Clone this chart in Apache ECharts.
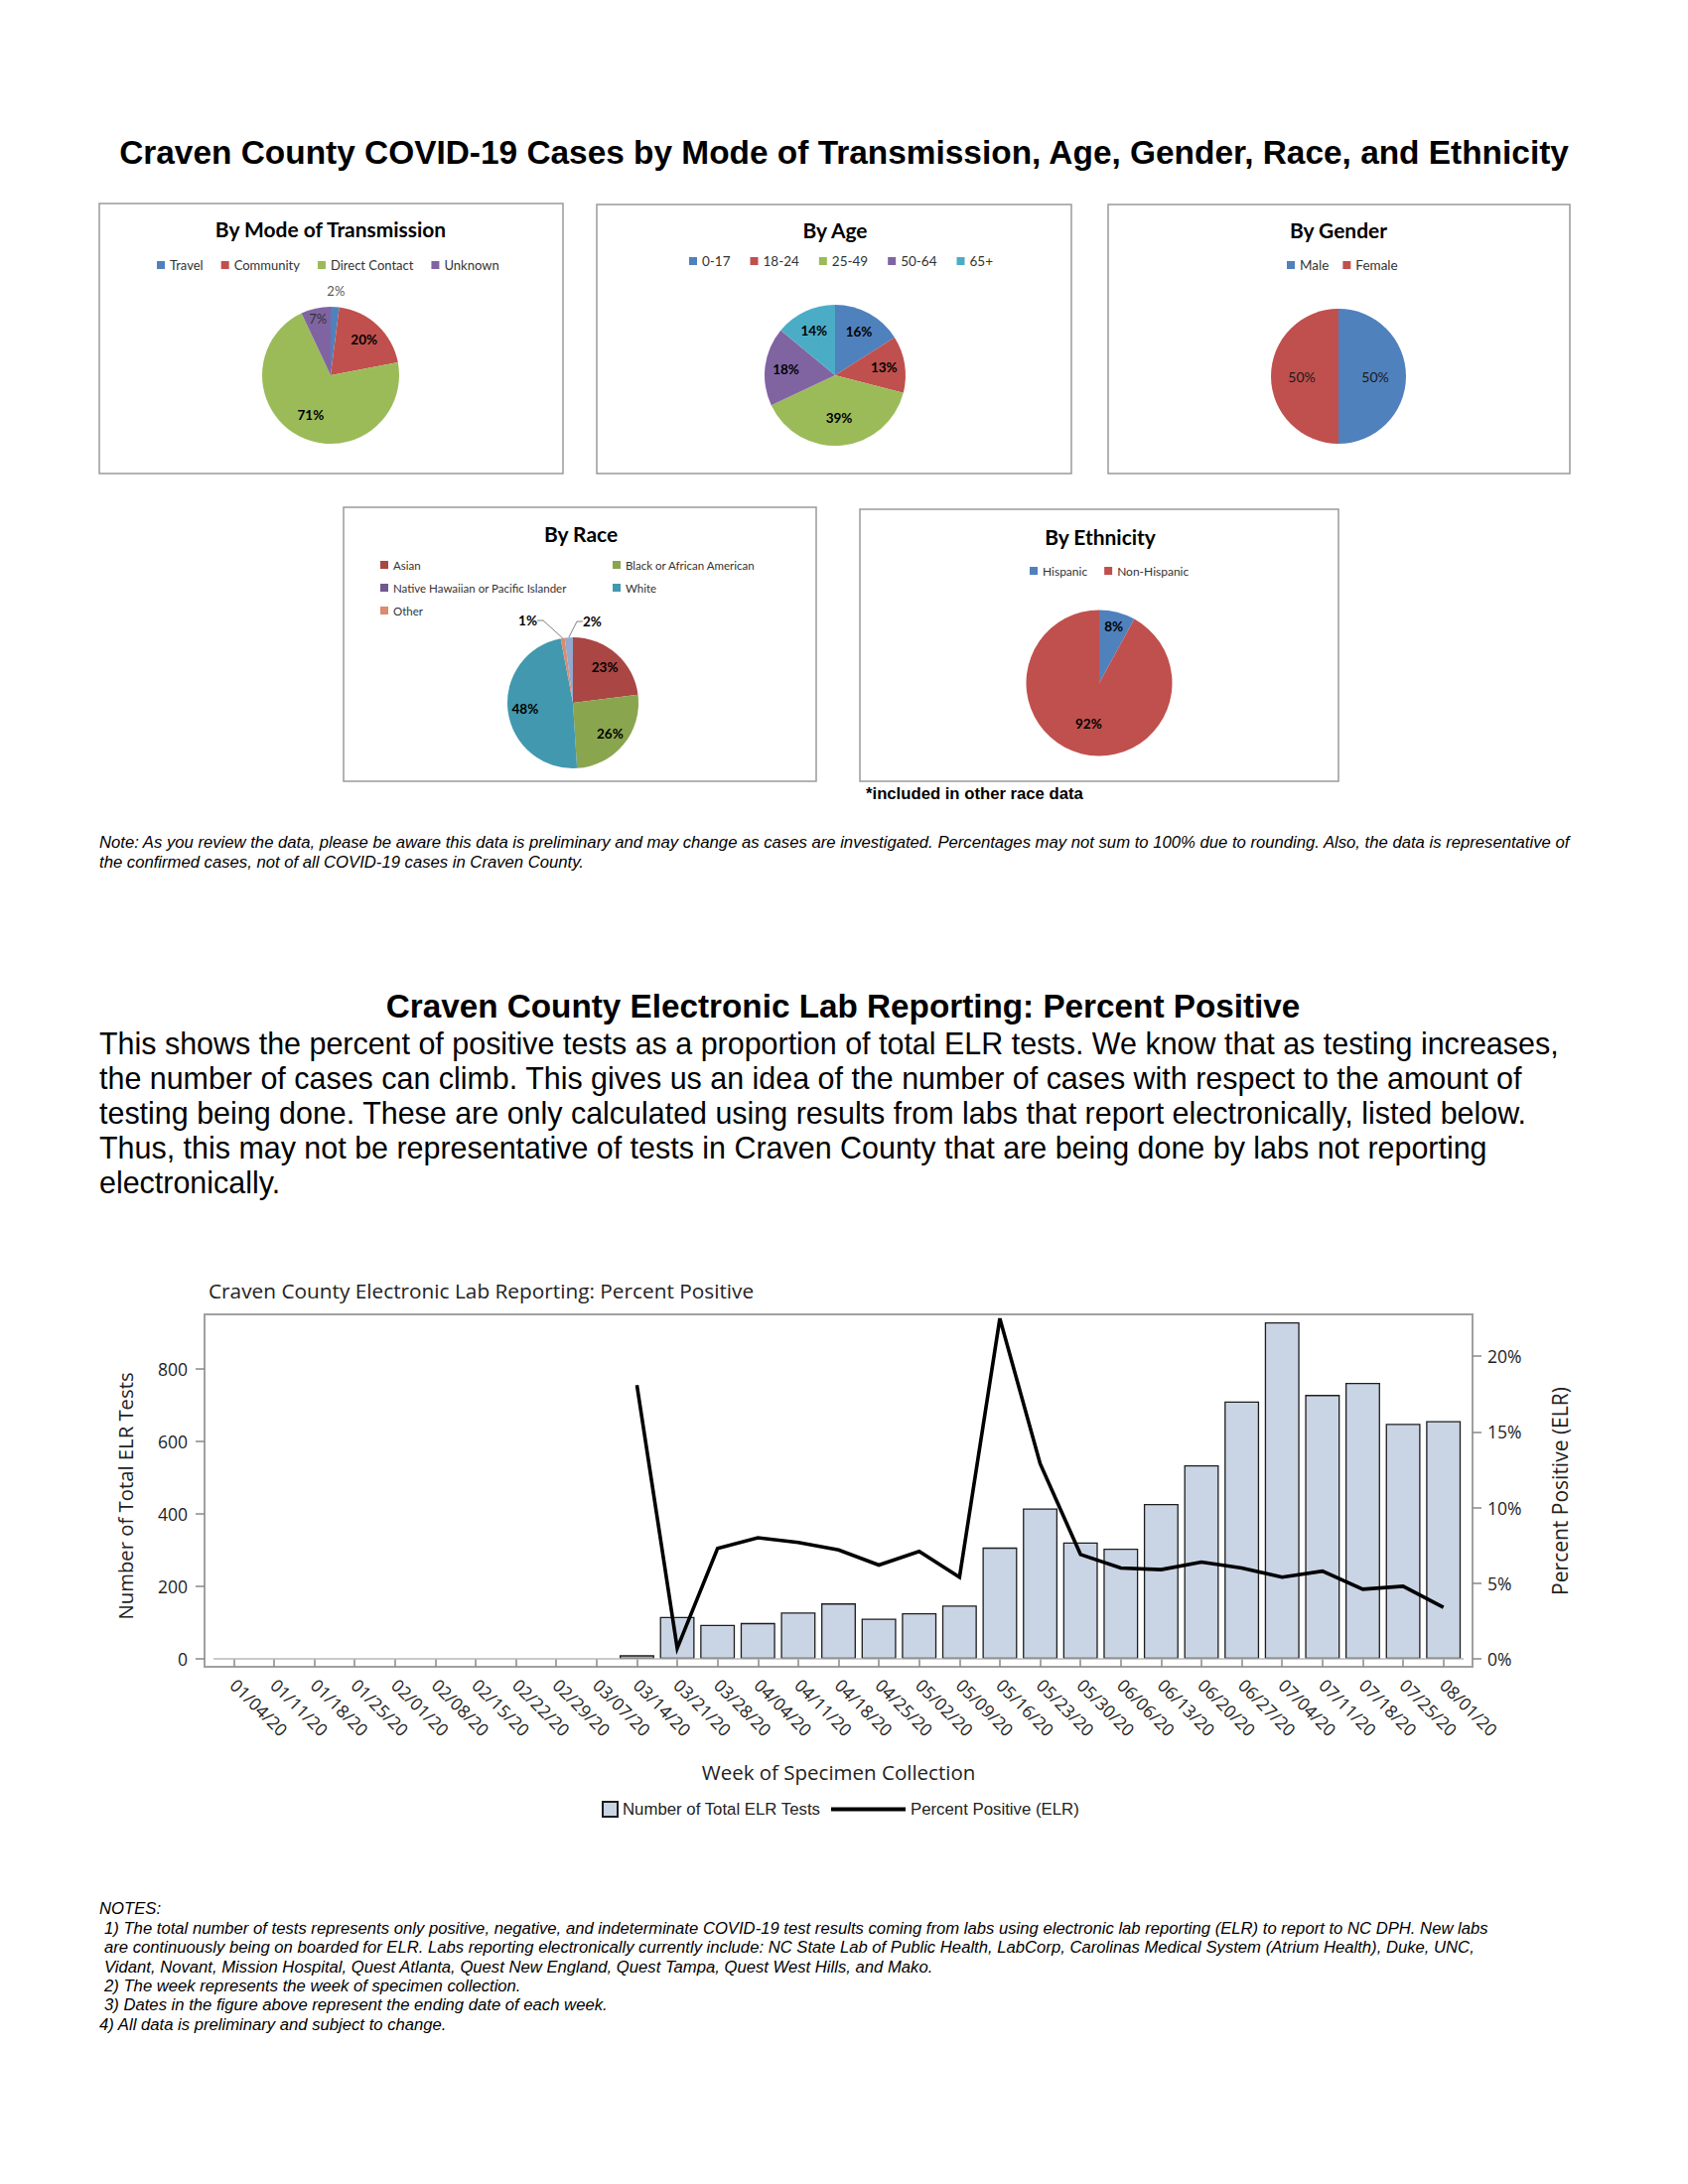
<!DOCTYPE html>
<html>
<head>
<meta charset="utf-8">
<script src="https://cdn.jsdelivr.net/npm/echarts@6/dist/echarts.min.js"></script>
<style>
html,body{margin:0;padding:0;background:#fff;}
#c{width:1700px;height:2200px;}
</style>
</head>
<body>
<div id="c"></div>
<script>
// ---------------- DATA ----------------
const transmissionNames = ['Travel', 'Community', 'Direct Contact', 'Unknown'];
const transmissionPct = [2, 20, 71, 7];

const ageNames = ['0-17', '18-24', '25-49', '50-64', '65+'];
const agePct = [16, 13, 39, 18, 14];

const genderNames = ['Male', 'Female'];
const genderPct = [50, 50];

const raceNames = ['Asian', 'Black or African American', 'Native Hawaiian or Pacific Islander', 'White', 'Other', 'American Indian or Alaskan Native'];
const racePct = [23, 26, 0, 48, 1, 2];

const ethnicityNames = ['Hispanic', 'Non-Hispanic'];
const ethnicityPct = [8, 92];

const weeks = ['01/04/20','01/11/20','01/18/20','01/25/20','02/01/20','02/08/20','02/15/20','02/22/20','02/29/20','03/07/20',
  '03/14/20','03/21/20','03/28/20','04/04/20','04/11/20','04/18/20','04/25/20','05/02/20','05/09/20','05/16/20',
  '05/23/20','05/30/20','06/06/20','06/13/20','06/20/20','06/27/20','07/04/20','07/11/20','07/18/20','07/25/20','08/01/20'];
const elrTests = [null,null,null,null,null,null,null,null,null,null,
  10,116,94,99,128,153,111,126,147,307,
  415,321,304,427,534,710,928,728,761,648,656];
const pctPositive = [null,null,null,null,null,null,null,null,null,null,
  18.1,0.7,7.3,8.0,7.7,7.2,6.2,7.1,5.4,22.5,
  12.9,6.9,6.0,5.9,6.4,6.0,5.4,5.8,4.6,4.8,3.4];
const leftTicks = [0, 200, 400, 600, 800];
const rightTicks = [0, 5, 10, 15, 20];

// ---------------- TEXT ----------------
const mainTitle = 'Craven County COVID-19 Cases by Mode of Transmission, Age, Gender, Race, and Ethnicity';
const elrTitle = 'Craven County Electronic Lab Reporting: Percent Positive';
const introLines = [
  'This shows the percent of positive tests as a proportion of total ELR tests. We know that as testing increases,',
  'the number of cases can climb. This gives us an idea of the number of cases with respect to the amount of',
  'testing being done. These are only calculated using results from labs that report electronically, listed below.',
  'Thus, this may not be representative of tests in Craven County that are being done by labs not reporting',
  'electronically.'
];
const pieNoteLines = [
  'Note: As you review the data, please be aware this data is preliminary and may change as cases are investigated. Percentages may not sum to 100% due to rounding. Also, the data is representative of',
  'the confirmed cases, not of all COVID-19 cases in Craven County.'
];
const raceFootnote = '*included in other race data';
const notesLines = [
  'NOTES:',
  '1) The total number of tests represents only positive, negative, and indeterminate COVID-19 test results coming from labs using electronic lab reporting (ELR) to report to NC DPH. New labs',
  'are continuously being on boarded for ELR. Labs reporting electronically currently include: NC State Lab of Public Health, LabCorp, Carolinas Medical System (Atrium Health), Duke, UNC,',
  'Vidant, Novant, Mission Hospital, Quest Atlanta, Quest New England, Quest Tampa, Quest West Hills, and Mako.',
  '2) The week represents the week of specimen collection.',
  '3) Dates in the figure above represent the ending date of each week.',
  '4) All data is preliminary and subject to change.'
];
const notesIndent = [0, 5, 5, 5, 5, 5, 0];

// ---------------- STYLE / LAYOUT ----------------
const F_ARIAL = '"Liberation Sans", Arial, Helvetica, sans-serif';
const F_XL = 'Lato, "Noto Sans", sans-serif';
const F_SAS = '"Open Sans", "Noto Sans", sans-serif';

const cv = document.createElement('canvas').getContext('2d');
function measure(text, weight, style, family) {
  cv.font = style + ' ' + weight + ' 100px ' + family;
  return cv.measureText(text).width / 100;
}
function fitSize(text, weight, style, family, target) {
  return target / measure(text, weight, style, family);
}

const C_BLUE = '#4F81BD', C_RED = '#C0504D', C_GREEN = '#9BBB59', C_PURPLE = '#8064A2', C_AQUA = '#4BACC6';
const transmissionColors = [C_BLUE, C_RED, C_GREEN, C_PURPLE];
const ageColors = [C_BLUE, C_RED, C_GREEN, C_PURPLE, C_AQUA];
const genderColors = [C_BLUE, C_RED];
const raceColors = ['#AA4643', '#89A54E', '#71588F', '#4198AF', '#DB8B6E', '#93A9CF'];
const ethnicityColors = [C_BLUE, C_RED];

const P1 = { c: [333, 378], r: 69 };
const P2 = { c: [841, 378], r: 71 };
const P3 = { c: [1348, 379], r: 68 };
const P4 = { c: [577, 708], r: 66 };
const P5 = { c: [1107, 688], r: 73.5 };

function slices(names, vals, colors) {
  return names.map((n, i) => ({ name: n, value: vals[i], itemStyle: { color: colors[i] } }));
}
function basePie(names, vals, colors, P) {
  return {
    type: 'pie', center: P.c, radius: P.r, startAngle: 90, clockwise: true,
    avoidLabelOverlap: false, silent: true, animation: false,
    emphasis: { disabled: true },
    itemStyle: { borderWidth: 0 },
    label: { show: false }, labelLine: { show: false },
    data: slices(names, vals, colors)
  };
}
const LBL_BOLD = { color: '#000', fontFamily: F_XL, fontSize: 13.5, fontWeight: 'bold' };
const LBL_NORM = { color: '#1a1a1a', fontFamily: F_XL, fontSize: 14, fontWeight: 'normal' };
function labelPie(names, vals, P, ratio, shown, style) {
  return {
    type: 'pie', center: P.c, radius: 2 * ratio * P.r, startAngle: 90, clockwise: true,
    avoidLabelOverlap: false, silent: true, animation: false, z: 5,
    emphasis: { disabled: true },
    itemStyle: { color: 'rgba(0,0,0,0)', borderWidth: 0 },
    label: Object.assign({ show: true, position: 'inside', formatter: '{c}%' }, style),
    labelLine: { show: false },
    data: names.map((n, i) => ({ name: n, value: vals[i], label: { show: shown.indexOf(n) >= 0 } }))
  };
}

// race pie with outside labels for the two smallest slices
const racePie = basePie(raceNames, racePct, raceColors, P4);
[4, 5].forEach(i => {
  racePie.data[i].label = { show: true, position: 'outside', formatter: '{c}%', color: '#000', fontFamily: F_XL, fontSize: 13.5, fontWeight: 'bold' };
  racePie.data[i].labelLine = { show: true, length: 12, length2: 6, smooth: false, lineStyle: { color: '#808080', width: 1 } };
});
racePie.labelLayout = function (p) {
  if (p.dataIndex === 5) return { x: P4.c[0] + 10, y: P4.c[1] - 82, align: 'left', verticalAlign: 'middle' };
  if (p.dataIndex === 4) return { x: P4.c[0] - 36, y: P4.c[1] - 83, align: 'right', verticalAlign: 'middle' };
};

function pieLegend(names, left, cy, gap, fs, orient) {
  return {
    data: names, left: left, top: cy - 7, orient: orient || 'horizontal', padding: 0,
    itemGap: gap, itemWidth: 8, itemHeight: 8, icon: 'rect', selectedMode: false,
    textStyle: { fontFamily: F_XL, fontSize: fs, color: '#333', lineHeight: 14 }
  };
}

// ---------------- GRAPHIC TEXT ----------------
function txt(x, y, text, o) {
  o = o || {};
  return {
    type: 'text', x: x, y: y, silent: true,
    rotation: o.rotation || 0, scaleX: o.scaleX || 1,
    style: {
      text: text, fill: o.fill || '#000',
      fontFamily: o.family || F_ARIAL, fontSize: o.size || 14,
      fontWeight: o.weight || 'normal', fontStyle: o.style || 'normal',
      textAlign: o.align || 'left', align: o.align || 'left',
      textVerticalAlign: 'middle', verticalAlign: 'middle'
    }
  };
}
function box(x0, y0, x1, y1) {
  return { type: 'rect', silent: true, shape: { x: x0, y: y0, width: x1 - x0, height: y1 - y0 },
    style: { fill: 'none', stroke: '#9a9a9a', lineWidth: 1.5 } };
}

const G = [];
// header title
const mainSize = fitSize(mainTitle, 'bold', 'normal', F_ARIAL, 1462);
G.push(txt(850, 153, mainTitle, { size: mainSize, weight: 'bold', align: 'center' }));
// pie boxes
G.push(box(100, 205, 567, 477), box(601, 206, 1079, 477), box(1116, 206, 1581, 477),
       box(346, 511, 822, 787), box(866, 513, 1348, 787));
// pie titles
const pieTitleSize = fitSize('By Mode of Transmission', 'bold', 'normal', F_XL, 234);
G.push(txt(333, 230, 'By Mode of Transmission', { family: F_XL, size: pieTitleSize, weight: 'bold', align: 'center' }));
G.push(txt(841, 231, 'By Age', { family: F_XL, size: pieTitleSize, weight: 'bold', align: 'center' }));
G.push(txt(1348, 231, 'By Gender', { family: F_XL, size: pieTitleSize, weight: 'bold', align: 'center' }));
G.push(txt(585, 537, 'By Race', { family: F_XL, size: pieTitleSize, weight: 'bold', align: 'center' }));
G.push(txt(1108, 540, 'By Ethnicity', { family: F_XL, size: pieTitleSize, weight: 'bold', align: 'center' }));
// footnote under ethnicity
G.push(txt(872, 799, raceFootnote, { size: fitSize(raceFootnote, 'bold', 'normal', F_ARIAL, 219), weight: 'bold' }));
// pie note
const noteSize = 16.5;
const noteScale = 1482 / (measure(pieNoteLines[0], 'normal', 'italic', F_ARIAL) * noteSize);
pieNoteLines.forEach((t, i) => G.push(txt(100, 849 + i * 19.6, t, { size: noteSize, style: 'italic', scaleX: noteScale })));
// section 2 title & paragraph
const elrSize = fitSize(elrTitle, 'bold', 'normal', F_ARIAL, 921);
G.push(txt(849, 1013, elrTitle, { size: elrSize, weight: 'bold', align: 'center' }));
const introSize = fitSize(introLines[0], 'normal', 'normal', F_ARIAL, 1470);
introLines.forEach((t, i) => G.push(txt(100, 1050.5 + i * 35.07, t, { size: introSize })));
// chart title and frame
G.push(txt(210, 1300, elrTitle, { family: F_SAS, size: 20.8, fill: '#222' }));
G.push({ type: 'rect', silent: true, shape: { x: 206, y: 1324, width: 1277, height: 355 },
  style: { fill: 'none', stroke: '#a0a0a0', lineWidth: 2 } });
// y axis names
G.push(txt(126, 1507, 'Number of Total ELR Tests', { family: F_SAS, size: 20.3, fill: '#222', align: 'center', rotation: Math.PI / 2 }));
G.push(txt(1571, 1502, 'Percent Positive (ELR)', { family: F_SAS, size: 21, fill: '#222', align: 'center', rotation: Math.PI / 2 }));
// bottom notes
const notesScale = 1394 / (measure(notesLines[1], 'normal', 'italic', F_ARIAL) * noteSize);
notesLines.forEach((t, i) => G.push(txt(100 + notesIndent[i], 1923 + i * 19.4, t, { size: noteSize, style: 'italic', scaleX: notesScale })));

// ---------------- CHART ----------------
const chart = echarts.init(document.getElementById('c'), null, { renderer: 'svg', width: 1700, height: 2200 });

const option = {
  animation: false,
  backgroundColor: '#ffffff',
  legend: [
    pieLegend(transmissionNames, 158, 267, 18, 13),
    pieLegend(ageNames, 694, 263, 20, 13.5),
    pieLegend(genderNames, 1296, 267, 14, 13.5),
    pieLegend(['Asian', 'Native Hawaiian or Pacific Islander', 'Other'], 383, 569, 9, 11.5, 'vertical'),
    pieLegend(['Black or African American', 'White'], 617, 569, 9, 11.5, 'vertical'),
    pieLegend(ethnicityNames, 1037, 575, 17, 12),
    {
      data: ['Number of Total ELR Tests'], left: 606, top: 1814, padding: 0, selectedMode: false,
      itemWidth: 15, itemHeight: 15, icon: 'rect',
      textStyle: { fontFamily: F_ARIAL, fontSize: 16.8, color: '#222' }
    },
    {
      data: ['Percent Positive (ELR)'], left: 837, top: 1814, padding: 0, selectedMode: false,
      itemWidth: 75, itemHeight: 4, icon: 'rect',
      textStyle: { fontFamily: F_ARIAL, fontSize: 16.8, color: '#222' }
    }
  ],
  grid: [{ left: 215, right: 226, top: 1324, bottom: 529, containLabel: false, outerBoundsMode: 'none' }],
  xAxis: [{
    type: 'category', data: weeks, position: 'bottom', offset: 8, boundaryGap: true,
    axisLine: { show: false },
    axisTick: { show: true, interval: 0, alignWithLabel: true, length: 8, lineStyle: { color: '#888', width: 1.5 } },
    axisLabel: { interval: 0, rotate: -45, margin: 15, fontSize: 17.5, fontFamily: F_SAS, color: '#222' },
    splitLine: { show: false },
    name: 'Week of Specimen Collection', nameLocation: 'middle', nameGap: 95,
    nameTextStyle: { fontSize: 20.5, fontFamily: F_SAS, color: '#222' }
  }],
  yAxis: [{
    type: 'value', min: 0, max: 950, position: 'left', offset: 9,
    axisLine: { show: false }, splitLine: { show: false },
    axisTick: { show: true, length: 9, customValues: leftTicks, lineStyle: { color: '#888', width: 1.5 } },
    axisLabel: { customValues: leftTicks, margin: 17, fontSize: 17.5, fontFamily: F_SAS, color: '#222' }
  }, {
    type: 'value', min: 0, max: 22.77, position: 'right', offset: 9,
    axisLine: { show: false }, splitLine: { show: false },
    axisTick: { show: true, length: 9, customValues: rightTicks, lineStyle: { color: '#888', width: 1.5 } },
    axisLabel: { customValues: rightTicks, margin: 15, fontSize: 17.5, fontFamily: F_SAS, color: '#222', formatter: '{value}%' }
  }],
  series: [
    basePie(transmissionNames, transmissionPct, transmissionColors, P1),
    basePie(ageNames, agePct, ageColors, P2),
    basePie(genderNames, genderPct, genderColors, P3),
    racePie,
    basePie(ethnicityNames, ethnicityPct, ethnicityColors, P5),
    // label layers
    labelPie(transmissionNames, transmissionPct, P1, 0.67, ['Community'], LBL_BOLD),
    labelPie(transmissionNames, transmissionPct, P1, 0.6, ['Direct Contact'], LBL_BOLD),
    labelPie(transmissionNames, transmissionPct, P1, 0.81, ['Unknown'], Object.assign({}, LBL_NORM, { color: '#333', fontSize: 13 })),
    labelPie(transmissionNames, transmissionPct, P1, 1.19, ['Travel'], Object.assign({}, LBL_NORM, { color: '#595959', fontSize: 13 })),
    labelPie(ageNames, agePct, P2, 0.66, ['0-17', '18-24', '50-64', '65+'], LBL_BOLD),
    labelPie(ageNames, agePct, P2, 0.56, ['25-49'], LBL_BOLD),
    labelPie(genderNames, genderPct, P3, 0.5, genderNames, LBL_NORM),
    labelPie(raceNames, racePct, P4, 0.69, ['Asian', 'Black or African American', 'White'], LBL_BOLD),
    labelPie(ethnicityNames, ethnicityPct, P5, 0.76, ['Hispanic'], LBL_BOLD),
    labelPie(ethnicityNames, ethnicityPct, P5, 0.54, ['Non-Hispanic'], LBL_BOLD),
    {
      type: 'bar', name: 'Number of Total ELR Tests', xAxisIndex: 0, yAxisIndex: 0,
      data: elrTests, barCategoryGap: '14%', z: 2,
      itemStyle: { color: '#C9D4E5', borderColor: '#1e1e1e', borderWidth: 1.3 },
      emphasis: { disabled: true },
      markLine: {
        silent: true, symbol: 'none', label: { show: false }, animation: false,
        lineStyle: { color: '#b8b8b8', width: 1.5, type: 'solid' },
        data: [{ yAxis: 0 }]
      }
    },
    {
      type: 'line', name: 'Percent Positive (ELR)', xAxisIndex: 0, yAxisIndex: 1,
      data: pctPositive, symbol: 'none', showSymbol: false, connectNulls: false, z: 3,
      lineStyle: { color: '#000', width: 3.6, join: 'miter', miterLimit: 10 },
      itemStyle: { color: '#000' },
      emphasis: { disabled: true }
    }
  ],
  graphic: G
};
chart.setOption(option);
</script>
</body>
</html>
